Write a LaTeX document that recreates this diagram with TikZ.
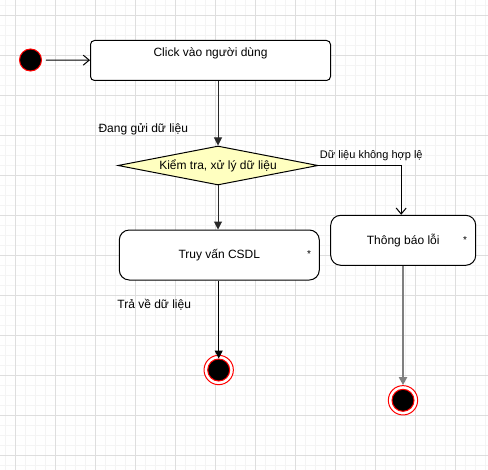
\documentclass[tikz,border=0pt]{standalone}
\usepackage{fontspec}
\setmainfont{Liberation Sans}
\usetikzlibrary{shapes.geometric,arrows.meta}
\definecolor{dyellow}{RGB}{255,255,192}
\definecolor{gmaj}{RGB}{222,222,222}
\definecolor{gmin}{RGB}{244,244,244}
\definecolor{flowgray}{RGB}{128,128,128}
\definecolor{dline}{RGB}{40,40,40}
\begin{document}
\begin{tikzpicture}[x=0.75pt,y=-0.75pt, font=\fontsize{9}{11}\selectfont,
  stbox/.style={draw, rounded corners=3pt, minimum width=180pt, minimum height=30pt, inner sep=0pt, line width=0.75pt, fill=white},
  actbox/.style={draw, rounded corners=7.5pt, minimum height=37.5pt, inner sep=0pt, line width=0.75pt, fill=white},
  decision/.style={diamond, draw, fill=dyellow, shape aspect=5.1, minimum width=150pt, minimum height=29.25pt, inner sep=0pt, line width=0.75pt},
  initial/.style={circle, draw=red, fill=black, minimum size=16.5pt, inner sep=0pt, line width=0.75pt},
  finalouter/.style={circle, draw=red, fill=white, minimum size=22pt, inner sep=0pt, line width=0.75pt},
  finalinner/.style={circle, draw=red, fill=black, minimum size=16.5pt, inner sep=0pt, line width=0.75pt},
  flow/.style={-{Triangle[length=6pt,width=6pt]}, line width=0.75pt},
  openflow/.style={-{Straight Barb[length=4.5pt,width=7.5pt]}, line width=0.75pt},
  lbl/.style={inner sep=0pt},
  smalllbl/.style={inner sep=0pt, font=\fontsize{8.25}{10}\selectfont},
  asterisk/.style={inner sep=0pt, font=\fontsize{7.5}{9}\selectfont}
]
\useasboundingbox (0,0) rectangle (488,470);
\fill[white] (0,0) rectangle (488,470);
% grid
\foreach \i in {0,...,48} \draw[gmin, line width=0.75pt] ({5.3+10*\i},0) -- ({5.3+10*\i},470);
\foreach \i in {0,...,46} \draw[gmin, line width=0.75pt] (0,{5.3+10*\i}) -- (488,{5.3+10*\i});
\foreach \i in {0,...,11} \draw[gmaj, line width=0.75pt] ({15.3+40*\i},0) -- ({15.3+40*\i},470);
\foreach \i in {0,...,11} \draw[gmaj, line width=0.75pt] (0,{15.3+40*\i}) -- (488,{15.3+40*\i});

% nodes
\node[initial] (start) at (30.5,60) {};
\node[stbox] (click) at (210.5,60.5) {};
\node[lbl] (clicktxt) at (210.5,53.3) {Click vào người dùng};
\node[decision] (dec) at (218,165.5) {Kiểm tra, xử lý dữ liệu};
\node[actbox, minimum width=150pt] (truy) at (219.3,255) {Truy vấn CSDL};
\node[asterisk] (truystar) at (309,254.5) {*};
\node[actbox, minimum width=108.75pt] (thong) at (403.2,240.3) {Thông báo lỗi};
\node[asterisk] (thongstar) at (465,240) {*};
\node[finalouter] (end1) at (218.7,370) {};
\node[finalinner] (end1in) at (218.7,370) {};
\node[finalouter] (end2) at (403,400.3) {};
\node[finalinner] (end2in) at (403,400.3) {};

% labels
\node[lbl] (lsend) at (143.3,129.3) {Đang gửi dữ liệu};
\node[smalllbl] (linvalid) at (371.3,156) {Dữ liệu không hợp lệ};
\node[lbl] (lret) at (154.2,304.3) {Trả về dữ liệu};

% connectors
\draw[openflow, shorten <=3pt] (start) -- (click);
\draw[flow, dline] (dec.north |- click.south) -- (dec.north);
\draw[flow, dline] (dec.south) -- (dec.south |- truy.north);
\draw[openflow] (dec.east) -| ([xshift=-1.5pt]thong.north);
\draw[flow] (truy.south -| end1) -- (end1in);
\draw[flow, flowgray, line width=1.5pt] (thong.south -| end2) -- (end2);
\end{tikzpicture}
\end{document}
